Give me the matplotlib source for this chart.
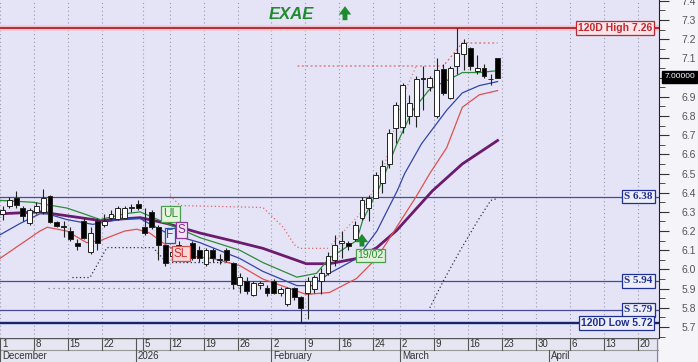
import matplotlib.pyplot as plt
from matplotlib.ticker import MultipleLocator

plt.rcParams['font.family'] = ['Liberation Sans', 'DejaVu Sans']

# daily candles, index 0 = 1 Dec 2025 (trading days)
opens = [6.29, 6.33, 6.375, 6.32, 6.24, 6.30, 6.30, 6.385, 6.245, 6.225,
         6.20, 6.14, 6.255, 6.09, 6.255, 6.23, 6.27, 6.265, 6.27, 6.32,
         6.34, 6.22, 6.30, 6.22, 6.125, 6.07, 6.125, 6.06, 6.14, 6.10,
         6.03, 6.10, 6.05, 6.10, 6.035, 5.92, 5.94, 5.865, 5.92, 5.905,
         5.94, 5.875, 5.82, 5.905, 5.855, 5.88, 5.90, 5.94, 5.98, 6.05,
         6.14, 6.14, 6.16, 6.27, 6.32, 6.375, 6.45, 6.55, 6.735, 6.74,
         6.80, 6.80, 7.00, 6.95, 6.80, 7.045, 6.895, 7.06, 7.125, 7.155,
         7.035, 7.05, 6.99, 7.10]
highs = [6.33, 6.38, 6.41, 6.33, 6.32, 6.35, 6.42, 6.39, 6.25, 6.25,
         6.22, 6.16, 6.27, 6.22, 6.27, 6.29, 6.31, 6.33, 6.33, 6.34,
         6.36, 6.32, 6.31, 6.23, 6.13, 6.12, 6.15, 6.10, 6.15, 6.12,
         6.11, 6.11, 6.08, 6.11, 6.04, 5.98, 5.96, 5.94, 5.94, 5.92,
         5.95, 5.91, 5.91, 5.91, 5.86, 5.96, 5.97, 6.01, 6.09, 6.18,
         6.20, 6.15, 6.25, 6.38, 6.39, 6.51, 6.57, 6.73, 6.87, 6.97,
         6.91, 7.01, 7.06, 7.01, 7.10, 7.07, 7.06, 7.26, 7.20, 7.16,
         7.12, 7.07, 7.02, 7.10]
lows = [6.26, 6.32, 6.32, 6.25, 6.23, 6.29, 6.29, 6.24, 6.22, 6.17,
        6.15, 6.10, 6.16, 6.08, 6.10, 6.22, 6.26, 6.26, 6.27, 6.30,
        6.31, 6.18, 6.21, 6.05, 6.02, 6.05, 6.06, 6.04, 6.05, 6.04,
        6.02, 6.04, 6.03, 6.04, 5.90, 5.88, 5.87, 5.86, 5.90, 5.86,
        5.87, 5.86, 5.81, 5.84, 5.72, 5.74, 5.88, 5.87, 5.97, 6.02,
        6.06, 6.10, 6.15, 6.26, 6.25, 6.37, 6.40, 6.53, 6.66, 6.71,
        6.76, 6.74, 6.83, 6.93, 6.79, 6.91, 6.89, 7.02, 7.04, 7.04,
        7.02, 7.00, 6.96, 7.00]
closes = [6.31, 6.36, 6.335, 6.28, 6.31, 6.33, 6.375, 6.245, 6.225, 6.22,
          6.16, 6.12, 6.165, 6.19, 6.14, 6.255, 6.29, 6.32, 6.32, 6.325,
          6.32, 6.19, 6.22, 6.125, 6.035, 6.09, 6.07, 6.08, 6.06, 6.06,
          6.10, 6.06, 6.055, 6.05, 5.925, 5.96, 5.89, 5.93, 5.93, 5.875,
          5.88, 5.90, 5.905, 5.855, 5.80, 5.94, 5.96, 5.98, 6.07, 6.13,
          6.15, 6.12, 6.23, 6.36, 6.37, 6.49, 6.54, 6.71, 6.855, 6.96,
          6.865, 6.995, 6.99, 7.00, 7.04, 6.92, 7.05, 7.13, 7.18, 7.06,
          7.05, 7.01, 6.995, 7.00]

# indicator lines (day index, price)
green_x = [-0.4, 4.5, 9.5, 12, 14.4, 18, 20.3, 24.2, 29.1, 35, 38.4, 43.4, 46.3,
           48.2, 52.2, 53.1, 55.6, 58.1, 60.5, 63, 65.5, 67.8, 70.3, 73]
green_y = [6.36, 6.35, 6.32, 6.29, 6.26, 6.29, 6.30, 6.24, 6.166, 6.10, 6.036, 5.96, 5.98,
           6.06, 6.15, 6.255, 6.43, 6.65, 6.83, 6.94, 6.984, 7.026, 7.026, 7.036]
blue_x = [-0.4, 2.6, 5.5, 6.6, 9.5, 13.3, 18, 20.3, 24.2, 29.1, 35, 38.4, 43.4, 45.7,
          48.2, 52.2, 55.2, 58.2, 59.3, 61.8, 65.5, 67.8, 70.3, 73]
blue_y = [6.18, 6.24, 6.29, 6.29, 6.26, 6.235, 6.265, 6.265, 6.19, 6.14, 6.057, 5.99, 5.916, 5.916,
          5.98, 6.057, 6.20, 6.41, 6.50, 6.656, 6.83, 6.92, 6.958, 6.979]
red_x = [-0.4, 5.5, 6.6, 9.5, 12.4, 14.4, 15.8, 18, 19.8, 21.7, 24.2, 27.2, 31, 35, 38.4,
         44.8, 48.2, 52.2, 55.2, 58.1, 61, 63, 65.5, 67.8, 70.3, 73]
red_y = [6.057, 6.20, 6.22, 6.20, 6.14, 6.15, 6.17, 6.20, 6.21, 6.19, 6.125, 6.072, 6.057, 6.02, 5.95,
         5.87, 5.88, 5.953, 6.06, 6.22, 6.38, 6.50, 6.635, 6.845, 6.91, 6.932]
purple_x = [-0.4, 5.5, 14.4, 20.3, 24.2, 29.1, 35, 38.4, 44.8, 48.2, 52.2, 55.2, 58.1,
            63.4, 67.8, 73]
purple_y = [6.29, 6.30, 6.255, 6.27, 6.24, 6.19, 6.14, 6.11, 6.03, 6.03, 6.057, 6.114, 6.203,
            6.41, 6.55, 6.672]

# stop lines (dotted)
upstop_x = [24.7, 26.2, 38.4, 41.4, 43, 43.8, 48]
upstop_y = [6.385, 6.333, 6.323, 6.22, 6.13, 6.11, 6.11]
upstop0_x = [-0.4, 1.5]
upstop0_y = [6.36, 6.36]
rally_x = [48.5, 53, 56, 59, 61]
rally_y = [6.13, 6.30, 6.50, 6.90, 7.06]
top_x = [43.5, 65, 67.8, 73]
top_y = [7.06, 7.06, 7.18, 7.18]
lowstop_x = [10.3, 12.9, 15.4, 22.2, 24.2, 33.5]
lowstop_y = [5.958, 5.958, 6.114, 6.114, 6.036, 6.036]
lowstop2_x = [63, 65, 67.5, 70, 72, 73]
lowstop2_y = [5.80, 5.94, 6.10, 6.25, 6.36, 6.37]
grey_x = [6.7, 35]
grey_y = [5.906, 5.906]

# horizontal levels
levels = [6.38, 5.94, 5.79]
level_labels = ['S 6.38', 'S 5.94', 'S 5.79']
high_120 = 7.26
low_120 = 5.72
last_price = '7.00000'

# date axis
day_pos = [0, 5, 10, 15, 21, 25, 30, 35, 40, 45, 50, 55, 59, 64, 69, 74, 79, 84, 89, 94]
day_labels = ['1', '8', '15', '22', '5', '12', '19', '26', '2', '9', '16', '24',
              '2', '9', '16', '23', '30', '6', '13', '20']
year_sep = 20
month_pos = [0, 20, 40, 59, 81]
month_labels = ['December', '2026', 'February', 'March', 'April']

bg = '#E4E4F6'
W, H = 698, 362
fig = plt.figure(figsize=(W / 100, H / 100), dpi=100)
fig.patch.set_facecolor('#F4F4F9')
ax = fig.add_axes([0, 24 / H, 659 / W, 338 / H])
ax.set_facecolor(bg)
xmin, xmax = -0.37, 96.8
ax.set_xlim(xmin, xmax)
ax.set_ylim(5.643, 7.404)

for s in ['left', 'top', 'bottom']:
    ax.spines[s].set_visible(False)
ax.spines['right'].set_color('#222222')
ax.yaxis.tick_right()
ax.yaxis.set_major_locator(MultipleLocator(0.1))
ax.yaxis.set_minor_locator(MultipleLocator(0.05))
ax.yaxis.set_major_formatter(lambda v, p: '' if abs(v - 7.0) < 0.01 else '%.1f' % v)
ax.tick_params(axis='y', which='major', length=7, color='#333333', labelsize=7.5,
               labelcolor='#555555', pad=9)
ax.tick_params(axis='y', which='minor', length=4, color='#333333')
ax.set_xticks([])

# vertical dotted grid
for p in day_pos:
    ax.axvline(p - 0.35, color='#9A9AB4', lw=0.8, ls=(0, (1, 2.5)), zorder=1)

# horizontal levels
ax.axhline(high_120, color='#F2C4CE', lw=4, zorder=2)
ax.axhline(high_120, color='#B0202A', lw=1.3, zorder=2)
for lv in levels:
    ax.axhline(lv, color='#4A4A9C', lw=0.9, zorder=2)
ax.axhline(low_120, color='#16246E', lw=1.7, zorder=2)

# dotted stops
ax.plot(upstop0_x, upstop0_y, color='#D86A6A', lw=0.9, ls=(0, (1, 2)), zorder=2)
ax.plot(upstop_x, upstop_y, color='#D86A6A', lw=0.9, ls=(0, (1, 2)), zorder=2)
ax.plot(rally_x, rally_y, color='#D88A8A', lw=0.9, ls=(0, (1, 2)), zorder=2)
ax.plot(top_x, top_y, color='#D86A6A', lw=0.9, ls=(0, (1.5, 2)), zorder=2)
ax.plot(lowstop_x, lowstop_y, color='#303050', lw=0.9, ls=(0, (1, 2)), zorder=2)
ax.plot(lowstop2_x, lowstop2_y, color='#303050', lw=0.9, ls=(0, (1, 2)), zorder=2)
ax.plot(grey_x, grey_y, color='#7A7A9A', lw=0.9, ls=(0, (1, 3)), zorder=2)

# moving averages
ax.plot(purple_x, purple_y, color='#6B1C6E', lw=2.0, zorder=3)
ax.plot(red_x, red_y, color='#E05050', lw=0.9, zorder=3)
ax.plot(blue_x, blue_y, color='#3344AA', lw=0.9, zorder=3)
ax.plot(green_x, green_y, color='#2E8B3A', lw=0.9, zorder=3)

# candles
for i in range(len(opens)):
    o, h, l, c = opens[i], highs[i], lows[i], closes[i]
    ax.vlines(i, l, h, color='#222222', lw=0.8, zorder=4)
    bottom = min(o, c)
    height = max(abs(c - o), 0.004)
    face = 'black' if c < o else 'white'
    ax.bar(i, height, bottom=bottom, width=0.72, color=face, edgecolor='#222222',
           lw=0.7, zorder=5)

# indicator tags
def tag(x, y, s, tc, fc, ec, fs=8):
    ax.text(x, y, s, color=tc, fontsize=fs, ha='center', va='center', zorder=6,
            bbox=dict(boxstyle='square,pad=0.15', fc=fc, ec=ec, lw=0.9))

tag(24.8, 6.29, 'UL', '#2E8B3A', '#E6F4DE', '#4AA04A', 8.5)
tag(26.4, 6.205, 'S', '#7A2A8A', '#F3E4F3', '#8A3A9A', 8.5)
tag(24.7, 6.178, 'F', '#2B48B0', '#E6EAFA', '#3050B0', 8.5)
tag(26.3, 6.083, 'SL', '#C83030', '#F8D6D6', '#D05050', 8.5)
tag(54.3, 6.075, '19/02', '#2E8B3A', '#E0F2D8', '#4AA04A', 7.5)
ax.annotate('', xy=(53, 6.20), xytext=(53, 6.105),
            arrowprops=dict(arrowstyle='simple,head_width=0.9,head_length=0.6,tail_width=0.35',
                            color='#1E8C2E', lw=0), zorder=6)

# title
ax.text(0.442, 0.958, 'EXAE', transform=ax.transAxes, fontsize=12, fontweight='bold',
        style='italic', color='#1E8C2E', ha='center', va='center')
ax.annotate('', xy=(0.5235, 0.99), xytext=(0.5235, 0.932), xycoords='axes fraction',
            arrowprops=dict(arrowstyle='simple,head_width=0.9,head_length=0.6,tail_width=0.35',
                            color='#1E8C2E', lw=0))

# right side level boxes
tr = ax.get_yaxis_transform()
ax.text(0.99, high_120, '120D High %.2f' % high_120, transform=tr, ha='right', va='center',
        fontsize=7.5, fontweight='bold', color='#C0282D', zorder=7,
        bbox=dict(boxstyle='square,pad=0.2', fc='#FBE4EA', ec='#C0282D', lw=0.9))
for lv, lab in zip(levels, level_labels):
    ax.text(0.99, lv, lab, transform=tr, ha='right', va='center', fontsize=8,
            fontweight='bold', family='Liberation Serif', color='#1F2F8F', zorder=7,
            bbox=dict(boxstyle='square,pad=0.2', fc='#EEEEF9', ec='#1F2F8F', lw=0.9))
ax.text(0.99, low_120, '120D Low %.2f' % low_120, transform=tr, ha='right', va='center',
        fontsize=7.5, fontweight='bold', color='#1F2F8F', zorder=7,
        bbox=dict(boxstyle='square,pad=0.2', fc='#EEEEF9', ec='#1F2F8F', lw=0.9))

fig.text(679.5 / W, 1 - 77 / H, last_price, color='white', fontsize=6, ha='center',
         va='center', bbox=dict(boxstyle='square,pad=0.3', fc='black', ec='black'))

# date strip
axd = fig.add_axes([0, 0, 659 / W, 24 / H])
axd.set_facecolor('#E6E6F2')
axd.set_xlim(xmin, xmax)
axd.set_ylim(0, 2)
axd.set_xticks([])
axd.set_yticks([])
for s in axd.spines.values():
    s.set_visible(False)
axd.axhline(2, color='#555555', lw=1)
axd.axhline(1, color='#999999', lw=0.8)
for p, lab in zip(day_pos, day_labels):
    axd.plot([p - 0.35, p - 0.35], [1, 2], color='#555555', lw=0.8)
    axd.text(p - 0.1, 1.5, lab, fontsize=7, color='#333333', va='center', ha='left')
axd.plot([year_sep - 0.35, year_sep - 0.35], [1, 2], color='#555555', lw=0.8)
for p, lab in zip(month_pos, month_labels):
    axd.plot([p - 0.35, p - 0.35], [0, 1], color='#555555', lw=0.8)
    axd.text(p - 0.1, 0.5, lab, fontsize=7, color='#333333', va='center', ha='left')
axd.axvline(xmax - 0.3, color='#888888', lw=0.8)

fig.savefig('out.png', dpi=100, facecolor=fig.get_facecolor())
